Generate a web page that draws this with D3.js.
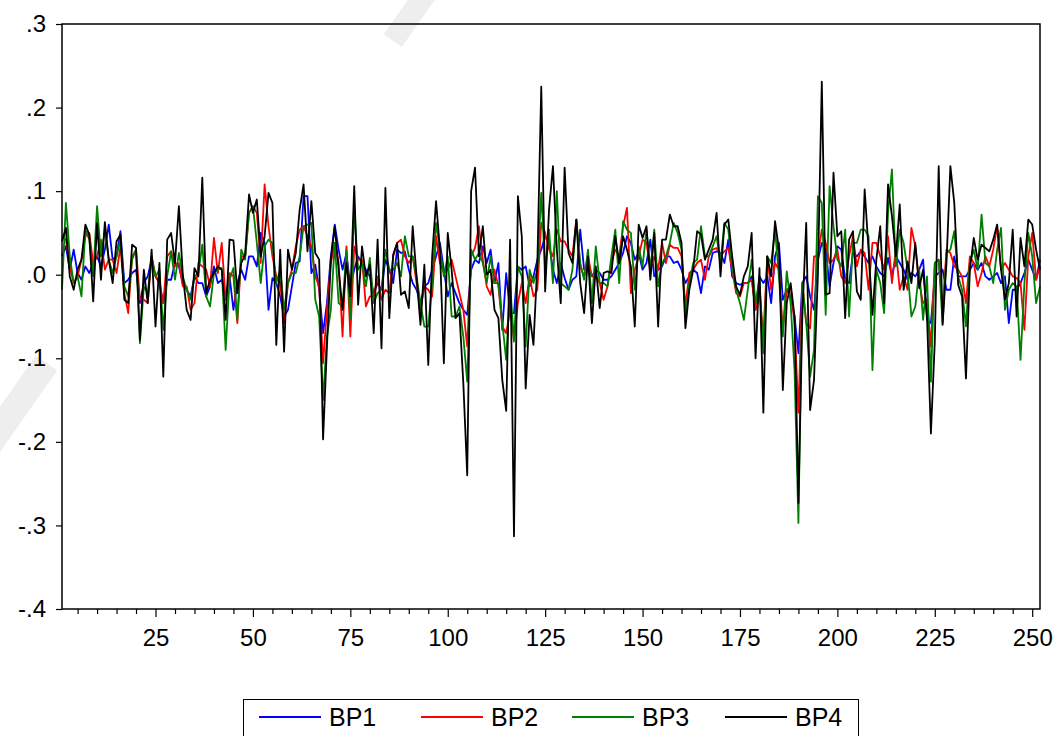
<!DOCTYPE html>
<html lang="en">
<head>
    <meta charset="utf-8">
    <script src="https://d3js.org/d3.v7.min.js"></script>
    <title>BP1 - BP4</title>
    <style>
        body { margin: 0; background: #fff; }
        svg text { font-family: "Liberation Sans", Arial, sans-serif; }
    </style>
</head>
<body>
    <div id="container"></div>
    <script>
        const bp1 = [0.022,0.034,0.006,0.03,0.002,-0.006,0.01,0.002,0.014,0.022,0.01,0.03,0.06,0.018,0.022,0.052,-0.01,-0.006,0.002,0.006,
            -0.034,-0.01,-0.002,0.018,-0.002,-0.01,-0.034,-0.006,-0.006,0.014,0.01,-0.01,-0.018,-0.026,-0.002,-0.01,-0.01,-0.026,-0.014,0.01,
            -0.01,-0.006,-0.026,-0.002,-0.042,-0.01,0.006,-0.006,0.022,0.022,0.01,0.05,0.038,-0.042,-0.004,-0.01,-0.026,-0.05,-0.042,-0.014,
            0.014,0.016,0.094,0.094,0.002,0.012,-0.018,-0.07,-0.034,0.022,0.06,0.03,0.006,0.026,-0.014,0.006,0.022,0.014,0.006,-0.002,
            -0.022,-0.01,-0.018,0.018,0.006,-0.01,0.03,0.026,0.028,0.006,-0.01,-0.018,-0.034,-0.014,-0.01,0.006,0.022,0.038,0.006,-0.026,
            -0.01,-0.022,-0.034,-0.042,-0.048,0.006,0.018,0.014,0.034,0.014,0.03,-0.01,0.014,-0.066,0.002,-0.046,-0.046,0.01,0.006,0.01,
            -0.014,-0.002,0.018,0.03,0.046,0.038,0.006,-0.01,0.014,-0.004,-0.018,-0.006,-0.002,0.054,0.006,0.006,-0.002,0.006,0.002,-0.006,
            -0.006,-0.002,0.006,0.014,0.026,0.046,0.038,0.018,0.026,0.006,0.014,0.042,-0.002,0.006,0.01,0.022,0.022,0.014,0.016,0.006,
            -0.01,-0.002,0.006,0.002,-0.022,0.01,0.006,0.026,0.028,0.026,0.014,0.042,-0.002,-0.01,-0.012,-0.01,-0.01,-0.002,-0.042,-0.002,
            -0.01,-0.002,-0.034,0.022,0.038,-0.03,-0.018,-0.026,-0.05,-0.094,-0.01,-0.002,-0.026,-0.042,0.018,0.038,0.03,-0.014,0.014,0.034,
            0.03,-0.006,-0.01,0.026,0.022,0.028,0.022,0.014,0.022,0.01,0.002,-0.002,0.02,-0.002,0.022,0.014,0.006,-0.006,0.002,-0.002,
            0.006,0.018,-0.054,-0.058,-0.002,0.002,0.006,-0.018,-0.018,0.022,-0.002,-0.002,-0.002,0.006,0.014,0.006,0.014,-0.002,-0.006,-0.002,
            0.002,-0.01,-0.002,-0.058,-0.018,-0.018,-0.01,0.002,0.018,0.006,-0.006,0.018];
        const bp2 = [0.046,0.042,0.01,-0.01,-0.002,0.018,0.046,0.05,0.014,0.022,0.042,0.006,0.018,0.018,0.002,0.034,-0.022,-0.046,0.022,0.03,
            -0.03,-0.03,-0.034,0.022,-0.002,-0.01,-0.034,0.022,0.028,0.01,0.014,-0.014,-0.014,-0.042,-0.034,0.014,0.01,0.006,-0.014,0.044,
            0.002,0.038,-0.03,0.002,-0.002,-0.058,0.022,0.022,0.074,0.082,0.074,0.014,0.108,0.058,0.022,-0.002,-0.01,-0.058,-0.01,0.006,
            0.034,0.054,0.058,0.046,0.034,-0.002,-0.014,-0.106,-0.042,0.014,0.038,0.014,-0.074,0.034,-0.074,0.034,0.018,0.018,-0.038,-0.026,
            -0.026,-0.002,-0.03,-0.018,-0.022,0.022,0.038,0.042,0.022,0.014,0.022,-0.01,-0.042,-0.014,-0.018,-0.026,0.046,0.014,0.002,0.006,
            0.018,-0.002,-0.022,-0.042,-0.086,0.022,0.032,0.058,0.018,-0.014,-0.024,0.006,-0.014,-0.062,-0.07,-0.042,-0.078,-0.034,-0.01,-0.034,
            -0.002,-0.026,-0.018,0.062,0.05,0.03,0.022,0.054,0.04,0.04,0.03,0.022,0.066,0.01,-0.002,0.022,-0.002,-0.002,-0.01,-0.03,
            -0.014,0.014,0.03,0.022,0.058,0.08,-0.022,0.006,0.022,0.042,0.038,0.006,0.022,0.006,0.038,0.014,0.036,0.032,0.032,0.022,
            -0.038,0.002,0.006,0.014,0.018,-0.006,0.022,0.03,0.032,0.022,0.028,0.032,0.006,-0.022,-0.026,-0.01,-0.01,-0.006,-0.042,-0.018,
            -0.074,0.022,-0.018,0.014,0.006,-0.066,-0.018,-0.014,-0.058,-0.165,-0.01,-0.058,-0.064,0.022,0.022,0.054,0.038,0.014,0.018,0.03,
            -0.002,-0.01,0.022,0.046,0.01,0.03,0.026,-0.018,0.038,0.038,0.022,0.006,0.046,-0.01,0.03,-0.018,-0.002,-0.018,0.056,0.034,
            -0.01,-0.034,-0.03,-0.086,0.014,0.018,-0.042,0.03,0.026,0.01,0.006,-0.002,-0.034,0.022,0.014,-0.014,0.002,0.022,0.01,0.03,
            0.058,0.006,0.014,0.006,-0.002,-0.004,-0.01,-0.066,0.022,0.05,-0.006,0.01];
        const bp3 = [-0.018,0.086,0.022,-0.01,-0.002,-0.026,0.054,0.042,-0.002,0.082,0.022,0.054,0.018,0.002,0.022,0.042,-0.014,-0.026,0.018,0.03,
            -0.082,-0.014,-0.022,0.022,-0.002,0.006,-0.066,-0.002,0.028,-0.006,0.026,-0.002,-0.018,-0.03,-0.002,0.002,0.036,-0.026,-0.038,0.002,
            0.006,0.008,-0.09,-0.006,0.008,-0.054,0.03,0.018,0.074,0.082,0.038,-0.01,0.034,0.042,0.038,-0.01,0.006,-0.042,-0.01,0.002,
            0.002,0.022,0.058,0.06,0.062,-0.03,-0.05,-0.15,-0.074,-0.042,0.038,-0.034,-0.038,0.03,-0.052,0.078,0.006,0.014,-0.014,0.02,
            -0.034,-0.022,-0.018,0.03,0.006,0.006,0.014,-0.002,0.046,0.022,0.022,-0.002,-0.034,-0.062,-0.062,-0.01,0.062,0.03,-0.002,0.022,
            -0.05,-0.05,-0.038,-0.074,-0.128,0.03,0.018,0.026,0.014,-0.01,0.022,-0.01,-0.01,-0.058,-0.102,-0.01,-0.08,0.01,-0.002,-0.086,
            0.006,-0.01,0.006,0.098,0.006,0.054,-0.01,0.1,-0.01,-0.014,-0.018,0.006,0.066,0.014,-0.006,0.03,-0.034,0.034,-0.01,-0.01,
            -0.014,0.022,0.054,-0.01,0.064,0.054,0.05,-0.018,0.034,0.01,0.054,0.006,0.054,-0.014,0.014,0.022,0.038,0.062,0.05,0.03,
            -0.05,-0.01,0.014,0.018,0.058,0.022,0.022,0.034,0.046,0.014,0.062,0.054,0.01,-0.018,-0.034,-0.054,-0.018,0.018,-0.034,-0.006,
            -0.094,0.022,0.014,0.054,-0.002,-0.074,0.004,-0.034,-0.114,-0.297,-0.01,-0.058,-0.122,-0.09,0.094,0.086,-0.048,0.106,0.058,0.018,
            0.01,0.054,-0.05,0.038,0.038,0.054,0.054,0.046,-0.114,0.006,-0.01,-0.046,0.074,0.126,0.01,0.054,0.038,0.006,-0.05,-0.038,
            0.006,-0.054,-0.002,-0.128,0.014,0.018,-0.058,0.026,0.03,0.052,-0.002,-0.018,-0.062,0.014,0.03,0.006,0.072,0.014,0.01,-0.01,
            0.03,0.056,-0.042,-0.018,-0.01,-0.014,-0.102,-0.01,0.05,0.022,-0.034,-0.014];
        const bp4 = [0.04,0.056,-0.002,-0.018,0.006,0.018,0.06,0.048,-0.032,0.062,-0.006,0.063,0.018,-0.01,0.04,0.048,-0.03,-0.034,0.036,0.032,
            -0.078,0.006,-0.034,0.03,-0.062,0.014,-0.122,0.042,0.05,0.014,0.082,0.0,-0.042,-0.054,0.008,-0.002,0.116,-0.022,-0.006,0.002,
            0.01,0.006,-0.054,0.042,0.041,-0.022,0.014,0.024,0.096,0.074,0.09,0.022,0.046,0.098,0.086,-0.084,0.03,-0.092,0.03,0.006,
            0.026,0.078,0.108,0.028,0.088,0.026,0.018,-0.197,-0.086,0.018,0.058,0.006,-0.042,0.014,-0.026,0.106,-0.036,0.034,-0.002,0.012,
            -0.07,0.042,-0.088,0.104,-0.052,0.024,0.038,-0.024,-0.02,-0.04,0.058,-0.002,-0.06,0.012,-0.108,0.022,0.088,0.03,-0.106,0.05,
            0.006,-0.052,-0.046,-0.13,-0.24,0.1,0.128,0.022,0.058,0.0,0.006,-0.042,-0.052,-0.126,-0.163,0.042,-0.313,0.094,0.046,-0.136,
            -0.048,-0.084,0.014,0.225,-0.02,0.078,0.13,0.03,-0.034,0.128,0.026,0.014,0.066,-0.01,-0.046,0.022,-0.058,0.01,-0.04,0.002,
            0.004,0.002,0.046,0.014,0.046,0.03,0.01,-0.062,0.06,0.044,0.058,-0.006,0.05,-0.062,0.042,0.042,0.072,0.058,0.058,0.038,
            -0.064,-0.018,0.006,0.052,0.048,0.018,0.03,0.042,0.074,-0.002,0.06,0.066,0.022,-0.014,-0.024,-0.002,0.01,0.05,-0.1,0.008,
            -0.165,0.022,-0.002,0.064,0.03,-0.138,-0.034,-0.01,-0.05,-0.273,-0.05,0.062,-0.162,-0.126,0.0,0.231,-0.024,-0.022,0.122,0.046,
            0.052,-0.052,0.042,0.052,-0.02,-0.03,0.102,0.03,-0.048,0.018,0.058,-0.034,0.108,0.07,0.022,0.084,-0.018,0.016,-0.01,0.038,
            -0.016,0.006,-0.05,-0.19,-0.08,0.13,-0.06,0.014,0.13,0.086,-0.012,-0.026,-0.124,0.006,0.044,0.018,0.036,0.032,0.028,0.042,
            0.06,0.006,-0.03,-0.01,0.054,-0.05,0.044,0.01,0.066,0.06,0.03,0.006];

        const seriesNames = ["BP1", "BP2", "BP3", "BP4"];
        const seriesColors = ["#0000ff", "#ff0000", "#008000", "#000000"];
        const yTicks = [-0.4, -0.3, -0.2, -0.1, 0.0, 0.1, 0.2, 0.3];
        const xTicks = [25, 50, 75, 100, 125, 150, 175, 200, 225, 250];

        const W = 1060, H = 736;
        const PLOT_L = 62, PLOT_R = 1040, PLOT_T = 24, PLOT_B = 609;
        const allSeries = [bp1, bp2, bp3, bp4];

        const svg = d3.select("#container")
            .append("svg")
            .attr("width", W)
            .attr("height", H);

        // faint watermark strokes behind the chart
        const wm = svg.append("g").attr("fill", "#eeeeee");
        wm.append("rect").attr("x", -40).attr("y", 395).attr("width", 110).attr("height", 26)
            .attr("transform", "rotate(-55 15 408)");
        wm.append("rect").attr("x", 380).attr("y", 5).attr("width", 60).attr("height", 22)
            .attr("transform", "rotate(-55 410 16)");

        const xScale = d3.scaleLinear().domain([1, bp1.length]).range([PLOT_L, PLOT_R]);
        const yScale = d3.scaleLinear().domain([-0.4, 0.3]).range([PLOT_B, PLOT_T]);

        const fmt = v => (v < -1e-9 ? "-" : "") + "." + Math.round(Math.abs(v) * 10);

        // y axis
        const yAxis = d3.axisLeft(yScale).tickValues(yTicks).tickFormat(fmt).tickSize(6).tickPadding(10);
        const gy = svg.append("g").attr("transform", "translate(" + PLOT_L + ",0)").call(yAxis);
        gy.select(".domain").remove();
        gy.selectAll("line").attr("stroke", "#000").attr("stroke-width", 1.2);
        gy.selectAll("text").attr("font-size", 24).attr("fill", "#000");

        // x axis: minor ticks every 5, labels every 25
        const minor = d3.range(5, bp1.length + 1, 5).filter(d => d % 25 !== 0);
        const gxm = svg.append("g").attr("transform", "translate(0," + PLOT_B + ")")
            .call(d3.axisBottom(xScale).tickValues(minor).tickFormat("").tickSize(5));
        gxm.select(".domain").remove();
        gxm.selectAll("line").attr("stroke", "#000").attr("stroke-width", 1.2);

        const gx = svg.append("g").attr("transform", "translate(0," + PLOT_B + ")")
            .call(d3.axisBottom(xScale).tickValues(xTicks).tickSize(8).tickPadding(12));
        gx.select(".domain").remove();
        gx.selectAll("line").attr("stroke", "#000").attr("stroke-width", 1.2);
        gx.selectAll("text").attr("font-size", 24).attr("fill", "#000");

        // series
        const line = d3.line()
            .x((d, i) => xScale(i + 1))
            .y(d => yScale(d));

        allSeries.forEach((s, k) => {
            svg.append("path")
                .datum(s)
                .attr("fill", "none")
                .attr("stroke", seriesColors[k])
                .attr("stroke-width", 1.8)
                .attr("stroke-linejoin", "round")
                .attr("d", line);
        });

        // frame
        svg.append("rect")
            .attr("x", PLOT_L).attr("y", PLOT_T)
            .attr("width", PLOT_R - PLOT_L).attr("height", PLOT_B - PLOT_T)
            .attr("fill", "none").attr("stroke", "#000").attr("stroke-width", 1.5);

        // legend
        const legend = svg.append("g");
        legend.append("rect")
            .attr("x", 243.5).attr("y", 699.5).attr("width", 615).attr("height", 42)
            .attr("fill", "#fff").attr("stroke", "#000").attr("stroke-width", 1);
        const legX = [259, 421, 572, 725];
        seriesNames.forEach((name, k) => {
            legend.append("line")
                .attr("x1", legX[k]).attr("x2", legX[k] + 62)
                .attr("y1", 717).attr("y2", 717)
                .attr("stroke", seriesColors[k]).attr("stroke-width", 1.8);
            legend.append("text")
                .attr("x", legX[k] + 70).attr("y", 726)
                .attr("font-size", 25)
                .text(name);
        });
    </script>
</body>
</html>
